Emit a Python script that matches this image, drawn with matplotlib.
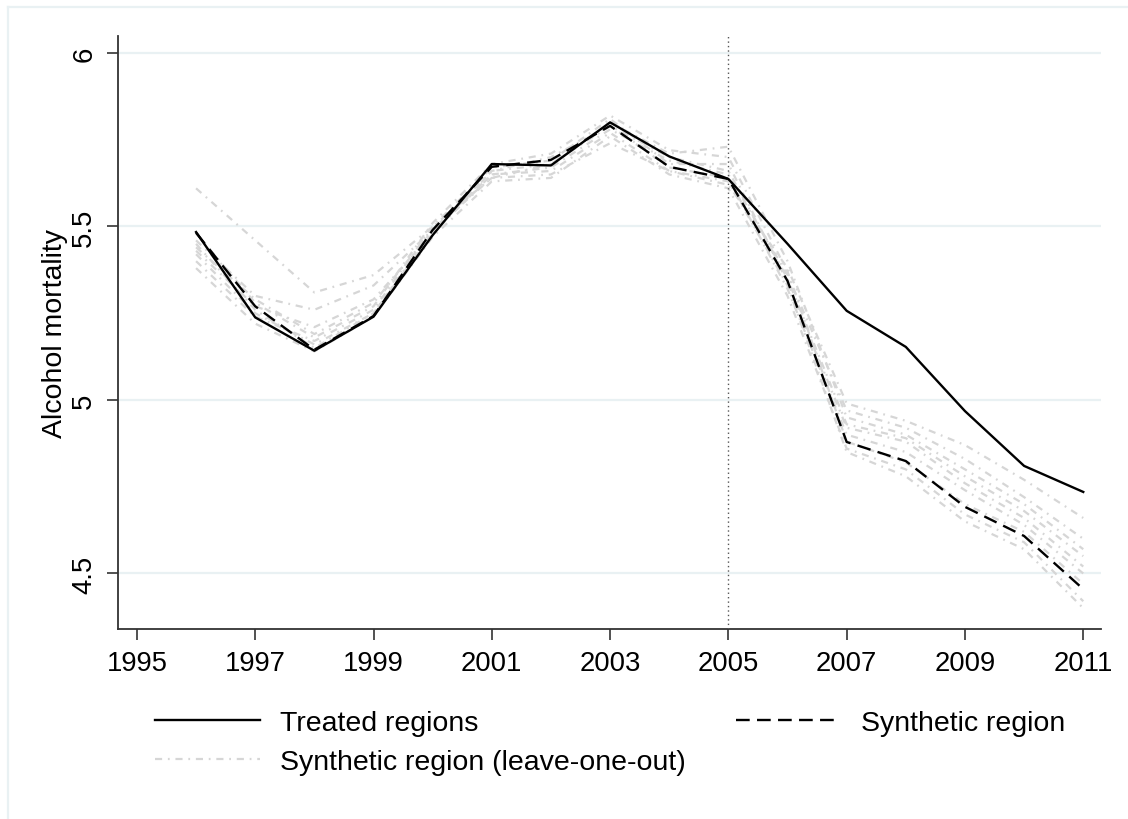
import matplotlib
matplotlib.use("Agg")
import matplotlib.pyplot as plt
from matplotlib.lines import Line2D

plt.rcParams['font.family'] = ['Liberation Sans', 'DejaVu Sans']

years = [1996, 1997, 1998, 1999, 2000, 2001, 2002, 2003,
         2004, 2005, 2006, 2007, 2008, 2009, 2010, 2011]

treated = [5.484, 5.238, 5.142, 5.240, 5.475, 5.680, 5.676, 5.800,
           5.702, 5.637, 5.450, 5.257, 5.153, 4.968, 4.810, 4.735]

synthetic = [5.482, 5.270, 5.145, 5.242, 5.490, 5.672, 5.692, 5.790,
             5.672, 5.637, 5.343, 4.879, 4.824, 4.692, 4.608, 4.455]

# leave-one-out synthetic controls
loo_1 = [5.61, 5.46, 5.31, 5.36, 5.50, 5.64, 5.65, 5.74, 5.66, 5.62, 5.38, 4.99, 4.94, 4.87, 4.77, 4.66]
loo_2 = [5.46, 5.30, 5.26, 5.33, 5.49, 5.65, 5.67, 5.78, 5.69, 5.65, 5.36, 4.97, 4.92, 4.83, 4.72, 4.60]
loo_3 = [5.43, 5.27, 5.21, 5.29, 5.48, 5.66, 5.68, 5.80, 5.71, 5.73, 5.40, 4.95, 4.90, 4.80, 4.70, 4.57]
loo_4 = [5.40, 5.24, 5.17, 5.26, 5.50, 5.67, 5.69, 5.81, 5.68, 5.68, 5.34, 4.92, 4.88, 4.76, 4.66, 4.52]
loo_5 = [5.45, 5.26, 5.15, 5.25, 5.49, 5.66, 5.70, 5.79, 5.67, 5.64, 5.32, 4.90, 4.85, 4.74, 4.64, 4.50]
loo_6 = [5.38, 5.22, 5.14, 5.24, 5.47, 5.63, 5.64, 5.76, 5.65, 5.61, 5.30, 4.86, 4.80, 4.67, 4.59, 4.42]
loo_7 = [5.48, 5.28, 5.18, 5.27, 5.51, 5.68, 5.71, 5.82, 5.72, 5.70, 5.37, 4.88, 4.82, 4.70, 4.62, 4.47]
loo_8 = [5.42, 5.25, 5.16, 5.25, 5.48, 5.65, 5.66, 5.77, 5.66, 5.63, 5.33, 4.85, 4.78, 4.65, 4.57, 4.40]
loo_9 = [5.44, 5.29, 5.19, 5.28, 5.49, 5.64, 5.68, 5.79, 5.70, 5.66, 5.35, 4.93, 4.89, 4.78, 4.68, 4.55]
loo_series = [loo_1, loo_2, loo_3, loo_4, loo_5, loo_6, loo_7, loo_8, loo_9]

x_ticks = [1995, 1997, 1999, 2001, 2003, 2005, 2007, 2009, 2011]
y_ticks = [4.5, 5, 5.5, 6]
y_ticklabels = ["4.5", "5", "5.5", "6"]
treatment_year = 2005

W, H = 1128, 820
fig = plt.figure(figsize=(W / 100, H / 100), dpi=100)
ax = fig.add_axes([118 / W, 1 - 630 / H, (1101 - 118) / W, (630 - 37) / H])

grid_col = "#e9f1f3"
fs = 19.8
fs_leg = 20.5
lw_main = 1.7

for yv in y_ticks:
    ax.axhline(yv, color=grid_col, lw=1.6, zorder=0)

loo_style = (0, (3.2, 2.6, 0.8, 2.6))
for s in loo_series:
    ax.plot(years, s, color="#d6d6d6", lw=1.6, linestyle=loo_style, zorder=2)

ax.axvline(treatment_year, color="#555555", lw=1.0, linestyle=(0, (1, 2.2)), zorder=3)

dash_style = (0, (5.8, 3.1))
ax.plot(years, synthetic, color="black", lw=lw_main, linestyle=dash_style, zorder=4)
ax.plot(years, treated, color="black", lw=lw_main, zorder=5)

ax.set_xlim(1994.68, 2011.30)
ax.set_ylim(4.340, 6.049)
ax.set_xticks(x_ticks)
ax.set_xticklabels([str(v) for v in x_ticks])
ax.set_yticks(y_ticks)
ax.set_yticklabels(y_ticklabels)

for sp in ["top", "right"]:
    ax.spines[sp].set_visible(False)
for sp in ["left", "bottom"]:
    ax.spines[sp].set_color("#333333")
    ax.spines[sp].set_linewidth(1.3)

ax.tick_params(axis="both", length=8, width=1.2, color="#333333", labelsize=fs, pad=7)
for lab in ax.get_yticklabels():
    lab.set_rotation(90)
    lab.set_va("center")

ax.set_ylabel("Alcohol mortality", fontsize=fs_leg, labelpad=2)

handles = [
    Line2D([], [], color="black", lw=lw_main),
    Line2D([], [], color="#d6d6d6", lw=1.6, linestyle=loo_style),
    Line2D([], [], color="black", lw=lw_main, linestyle=dash_style),
]
labels = ["Treated regions", "Synthetic region (leave-one-out)", "Synthetic region"]
fig.legend(handles, labels, ncol=2, loc="upper left",
           bbox_to_anchor=(155 / W, 1 - 711 / H), frameon=False,
           fontsize=fs_leg, handlelength=3.68, handletextpad=0.7,
           columnspacing=1.78, labelspacing=0.45, borderpad=0, borderaxespad=0)

# light outer frame
fig.add_artist(Line2D([8 / W, 8 / W], [0, 1 - 8 / H], transform=fig.transFigure,
                      color=grid_col, lw=1.6))
fig.add_artist(Line2D([8 / W, 1], [1 - 8 / H, 1 - 8 / H], transform=fig.transFigure,
                      color=grid_col, lw=1.6))

fig.savefig("out.png", dpi=100)
